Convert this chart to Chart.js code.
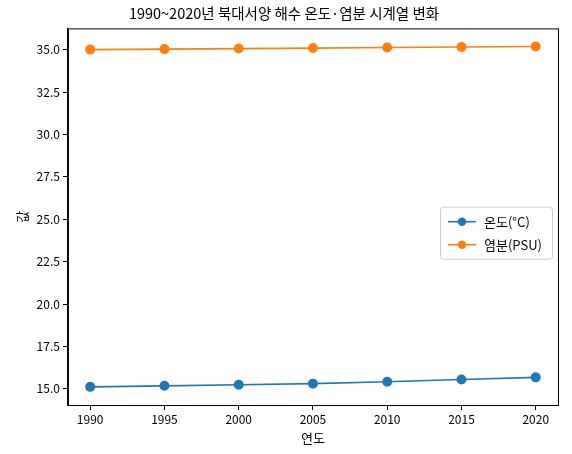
<!DOCTYPE html>
<html><head><meta charset="utf-8">
<script src="https://cdn.jsdelivr.net/npm/chart.js@4"></script>
<style>body{margin:0;background:#fff}#w{width:572px;height:454px}</style>
</head><body><div id="w"><canvas id="c"></canvas></div>
<script>
const years = [1990,1995,2000,2005,2010,2015,2020];
const temperature = [15.12,15.18,15.24,15.31,15.42,15.55,15.68];
const salinity = [35.00,35.03,35.06,35.09,35.12,35.15,35.18];
const seriesNames = ['온도(°C)','염분(PSU)'];
const colors = ['#1f77b4','#ff7f0e'];
const F = "'Noto Sans CJK KR','Noto Sans',sans-serif";

const legendPlugin = {
  id:'inLegend',
  afterDraw(chart){
    const {ctx, chartArea:a} = chart;
    ctx.save();
    ctx.strokeStyle='#000';ctx.lineWidth=1;
    ctx.strokeRect(a.left+0.5,a.top+0.5,a.right-a.left,a.bottom-a.top);
    const w=112, h=52, x=a.right-w-6, y=(a.top+a.bottom)/2-h/2+16;
    ctx.fillStyle='rgba(255,255,255,0.8)';ctx.strokeStyle='#ccc';
    ctx.beginPath();ctx.roundRect(x+0.5,y+0.5,w,h,3);ctx.fill();ctx.stroke();
    seriesNames.forEach((n,i)=>{
      const cy=y+15+i*23;
      ctx.strokeStyle=colors[i];ctx.lineWidth=1.6;
      ctx.beginPath();ctx.moveTo(x+8,cy);ctx.lineTo(x+36,cy);ctx.stroke();
      ctx.fillStyle=colors[i];ctx.beginPath();ctx.arc(x+22,cy,4.2,0,Math.PI*2);ctx.fill();
      ctx.fillStyle='#000';ctx.font='13px '+F;ctx.textBaseline='middle';
      ctx.fillText(n,x+44,cy);
    });
    ctx.restore();
  }
};

new Chart(document.getElementById('c'),{
  type:'line',
  data:{datasets:[
    {label:seriesNames[0],data:years.map((x,i)=>({x,y:temperature[i]})),borderColor:colors[0],backgroundColor:colors[0],pointRadius:4.2,borderWidth:1.6},
    {label:seriesNames[1],data:years.map((x,i)=>({x,y:salinity[i]})),borderColor:colors[1],backgroundColor:colors[1],pointRadius:4.2,borderWidth:1.6}
  ]},
  options:{
    responsive:true,maintainAspectRatio:false,animation:false,
    layout:{padding:{left:10,right:14,top:0,bottom:4}},
    plugins:{
      legend:{display:false},tooltip:{enabled:false},
      title:{display:true,text:'1990~2020년 북대서양 해수 온도·염분 시계열 변화',color:'#000',font:{family:F,size:14.5,weight:'normal'},padding:{top:5,bottom:6}}
    },
    scales:{
      x:{type:'linear',min:1988.5,max:2021.5,grid:{display:true,drawOnChartArea:false,tickLength:5,color:'#000'},border:{color:'#000'},
        afterBuildTicks(s){s.ticks=years.map(v=>({value:v}));},
        ticks:{color:'#000',font:{family:F,size:12},padding:2,callback:v=>String(v)},
        title:{display:true,text:'연도',color:'#000',font:{family:F,size:13},padding:{top:2}}},
      y:{min:14.05,max:36.25,grid:{display:true,drawOnChartArea:false,tickLength:5,color:'#000'},border:{color:'#000'},
        afterBuildTicks(s){const t=[];for(let v=15;v<=35;v+=2.5)t.push({value:v});s.ticks=t;},
        ticks:{color:'#000',font:{family:F,size:12},padding:3,callback:v=>v.toFixed(1)},
        title:{display:true,text:'값',color:'#000',font:{family:F,size:13}}}
    }
  },
  plugins:[legendPlugin]
});
</script></body></html>
